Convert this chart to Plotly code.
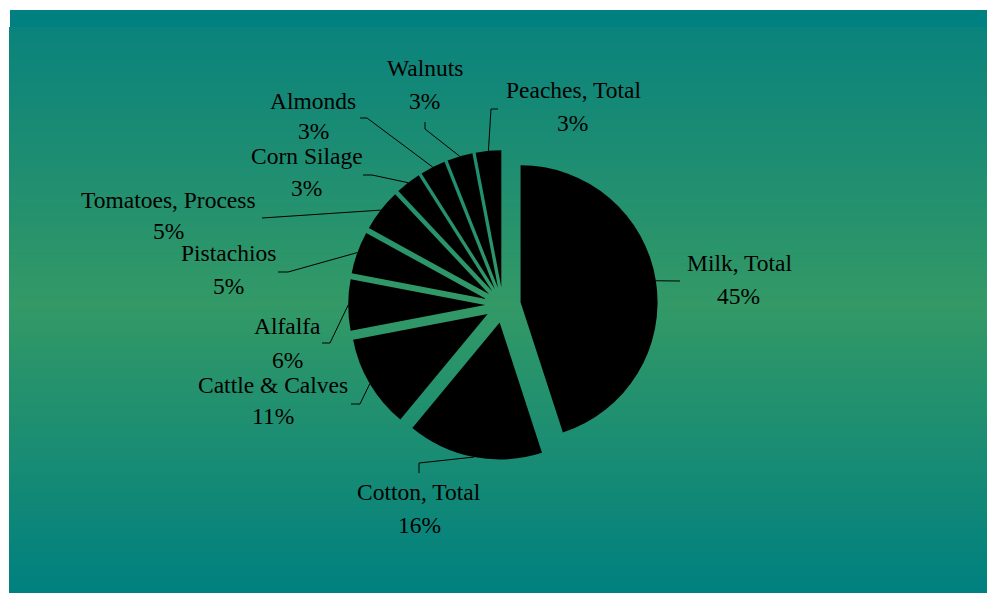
import math
import plotly.graph_objects as go

# ---------------- data ----------------
categories = ["Milk, Total", "Cotton, Total", "Cattle & Calves", "Alfalfa", "Pistachios",
              "Tomatoes, Process", "Corn Silage", "Almonds", "Walnuts", "Peaches, Total"]
shares = [45, 16, 11, 6, 5, 5, 3, 3, 3, 3]

# ---------------- layout / style ----------------
W, H = 987, 593
ML, MT, MR, MB = 9, 10, 0, 0
PW, PH = W - ML - MR, H - MT - MB
DOM_X = [0.3051, 0.7051]
DOM_Y = [0.2285, 0.7595]
PULL = 0.13
FONT = "Liberation Serif, Times New Roman, serif"
FSIZE = 23.5

# label placement (pixel coords): name_xy, pct_xy, leader start, leader elbow
label_layout = {
    "Milk, Total":       ((739, 263), (738, 296), (680, 281), (680, 281)),
    "Cotton, Total":     ((419, 492), (419, 525), (419, 473), (419, 463)),
    "Cattle & Calves":   ((273, 385), (273, 416), (351, 404), (360, 404)),
    "Alfalfa":           ((287, 326), (287, 360), (322, 343), (330, 343)),
    "Pistachios":        ((228, 253), (228, 286), (278, 272), (288, 272)),
    "Tomatoes, Process": ((168, 200), (168, 231), (262, 218), (262, 218)),
    "Corn Silage":       ((307, 156), (306, 188), (363, 175), (372, 175)),
    "Almonds":           ((313, 101), (313, 131), (360, 118), (367, 118)),
    "Walnuts":           ((425, 68), (424, 101), (425, 122), (425, 129)),
    "Peaches, Total":    ((573, 90), (572, 123), (498, 109), (491, 109)),
}

fig = go.Figure()

# background gradient (teal -> sea green -> teal)
def lerp(c1, c2, t):
    return tuple(round(a + (b - a) * t) for a, b in zip(c1, c2))

teal = (0, 128, 128)
top_start = (10, 131, 125)
mid = (51, 153, 102)
shapes = []
shapes.append(dict(type="rect", xref="x", yref="y", x0=10, x1=W, y0=MT, y1=27,
                   fillcolor="rgb(0,128,128)", line=dict(width=0), layer="below"))
y = 27.0
step = 2.0
y_mid = 305.0
while y < H:
    yc = y + step / 2
    if yc <= y_mid:
        c = lerp(top_start, mid, (yc - 27) / (y_mid - 27))
    else:
        c = lerp(mid, teal, (yc - y_mid) / (H - y_mid))
    shapes.append(dict(type="rect", xref="x", yref="y", x0=ML, x1=W, y0=y, y1=min(y + step + 0.6, H),
                       fillcolor="rgb(%d,%d,%d)" % c, line=dict(width=0), layer="below"))
    y += step

# pie geometry (mirrors plotly's pie sizing) to attach leader lines
box_w = PW * (DOM_X[1] - DOM_X[0])
box_h = PH * (DOM_Y[1] - DOM_Y[0])
r = min(box_w, box_h) / 2 / (1 + PULL)
cx = ML + PW * (DOM_X[0] + DOM_X[1]) / 2
cy = MT + PH * (1 - DOM_Y[0]) - box_h / 2

total = sum(shares)
cum = 0.0
lx, ly = [], []
annotations = []
for name, v in zip(categories, shares):
    theta = math.radians((cum + v / 2) / total * 360)
    cum += v
    ex = cx + (1 + PULL) * r * math.sin(theta)
    ey = cy - (1 + PULL) * r * math.cos(theta)
    (nx, ny), (px, py), (sx, sy), (bx, by) = label_layout[name]
    lx += [sx, bx, ex, None]
    ly += [sy, by, ey, None]
    pct = "%d%%" % round(100 * v / total)
    for txt, tx, ty in ((name, nx, ny), (pct, px, py)):
        annotations.append(dict(x=tx, y=ty, xref="x", yref="y", text=txt, showarrow=False,
                                xanchor="center", yanchor="middle",
                                font=dict(family=FONT, size=FSIZE, color="black")))

fig.add_trace(go.Scatter(x=lx, y=ly, mode="lines", line=dict(color="black", width=1),
                         hoverinfo="skip", showlegend=False))

fig.add_trace(go.Pie(labels=categories, values=shares, sort=False, direction="clockwise",
                     rotation=0, pull=PULL, textinfo="none", hoverinfo="label+percent",
                     marker=dict(colors=["black"] * len(shares), line=dict(width=0)),
                     domain=dict(x=DOM_X, y=DOM_Y), showlegend=False))

fig.update_layout(
    width=W, height=H, autosize=False,
    margin=dict(l=ML, r=MR, t=MT, b=MB, pad=0),
    paper_bgcolor="white", plot_bgcolor="rgba(0,0,0,0)",
    xaxis=dict(range=[ML, W], visible=False, fixedrange=True, showgrid=False, zeroline=False),
    yaxis=dict(range=[H, MT], visible=False, fixedrange=True, showgrid=False, zeroline=False),
    shapes=shapes, annotations=annotations, showlegend=False,
)

fig.write_html("out.html", config={"displayModeBar": False},
               post_script="document.body.style.margin='0';document.body.style.overflow='hidden';")
